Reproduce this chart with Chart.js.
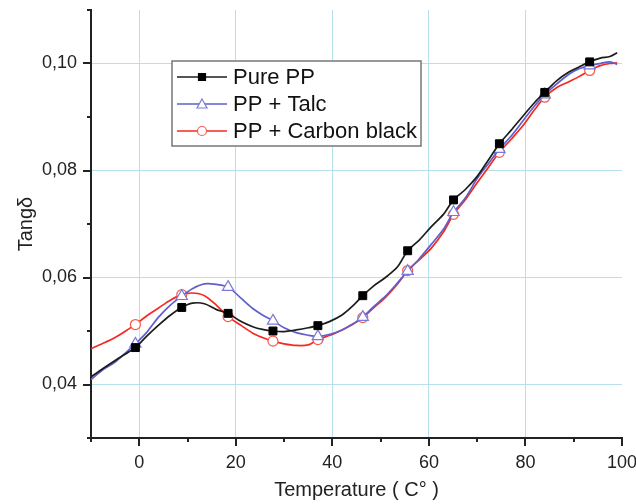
<!DOCTYPE html>
<html>
<head>
<meta charset="utf-8">
<script src="https://cdn.jsdelivr.net/npm/chart.js@4.4.0/dist/chart.umd.min.js"></script>
<style>
html, body { margin: 0; padding: 0; background: #fff; }
</style>
</head>
<body>
<canvas id="grafica" width="636" height="504"></canvas>
<script>
// temperatures (C)
var temps = [-10, -7.5, -5, -2.5, -0.8, 1.5, 4, 6.5, 8.8, 11, 13.5, 16, 18.4, 21, 23.5, 25.5,
  27.7, 30, 32.5, 35, 37, 39.5, 42, 44, 46.3, 48.5, 51, 53.5, 55.6, 58, 60.5, 63, 65.1,
  67.5, 70, 72.5, 74.6, 77, 79.5, 82, 84, 86.5, 89, 91, 93.3, 95.5, 97.5, 99];
// temperatures where the symbols sit
var markerTemps = [-0.8, 8.8, 18.4, 27.7, 37, 46.3, 55.6, 65.1, 74.6, 84, 93.3];

var purePP = [0.0414, 0.0430, 0.0445, 0.0459, 0.0469, 0.0490, 0.0511, 0.0530, 0.0544, 0.0552,
  0.0551, 0.0540, 0.0533, 0.0518, 0.0508, 0.0503, 0.0500, 0.0499, 0.0502, 0.0506, 0.0510,
  0.0518, 0.0530, 0.0545, 0.0566, 0.0584, 0.0600, 0.0620, 0.0650, 0.0670, 0.0695, 0.0718,
  0.0745, 0.0764, 0.0789, 0.0822, 0.0850, 0.0875, 0.0902, 0.0928, 0.0946, 0.0968, 0.0984,
  0.0993, 0.1003, 0.1010, 0.1013, 0.1020];
var ppTalc = [0.0409, 0.0428, 0.0442, 0.0462, 0.0476, 0.0497, 0.0526, 0.0549, 0.0565, 0.0579,
  0.0588, 0.0587, 0.0582, 0.0562, 0.0542, 0.0530, 0.0519, 0.0506, 0.0497, 0.0492, 0.0490,
  0.0494, 0.0502, 0.0512, 0.0526, 0.0545, 0.0565, 0.0590, 0.0612, 0.0635, 0.0662, 0.0690,
  0.0722, 0.0748, 0.0785, 0.0815, 0.0840, 0.0864, 0.0893, 0.0922, 0.0942, 0.0962, 0.0980,
  0.0990, 0.0996, 0.1000, 0.1003, 0.0998];
var ppCarbon = [0.0467, 0.0477, 0.0488, 0.0502, 0.0512, 0.0528, 0.0543, 0.0558, 0.0568, 0.0571,
  0.0566, 0.0548, 0.0527, 0.0511, 0.0496, 0.0488, 0.0481, 0.0476, 0.0473, 0.0474, 0.0484,
  0.0492, 0.0502, 0.0511, 0.0525, 0.0543, 0.0563, 0.0588, 0.0613, 0.0633, 0.0655, 0.0685,
  0.0718, 0.0745, 0.0777, 0.0808, 0.0834, 0.0858, 0.0884, 0.0915, 0.0937, 0.0955, 0.0966,
  0.0975, 0.0987, 0.0996, 0.1000, 0.1001];

var seriesNames = ["Pure PP", "PP + Talc", "PP + Carbon black"];
var xTitle = "Temperature ( C° )";
var yTitle = "Tangδ";

var FONT = "'Liberation Sans', Arial, sans-serif";

function pts(ys) {
  return ys.map(function (y, i) { return { x: temps[i], y: y }; });
}
function markerRadius(r) {
  return function (c) { return markerTemps.indexOf(temps[c.dataIndex]) >= 0 ? r : 0; };
}

// short/long tick marks on both axes
var tickMarks = {
  id: 'tickMarks',
  afterDraw: function (chart) {
    var ctx = chart.ctx, a = chart.chartArea;
    var sx = chart.scales.x, sy = chart.scales.y;
    ctx.save();
    ctx.strokeStyle = '#222';
    ctx.lineWidth = 2;
    sx.ticks.forEach(function (t) {
      var px = Math.round(sx.getPixelForValue(t.value));
      var len = Math.round(t.value) % 20 === 0 ? 8 : 4;
      ctx.beginPath(); ctx.moveTo(px, a.bottom); ctx.lineTo(px, a.bottom + len); ctx.stroke();
    });
    sy.ticks.forEach(function (t) {
      var py = Math.round(sy.getPixelForValue(t.value));
      var len = Math.round(t.value * 100) % 2 === 0 ? 8 : 4;
      ctx.beginPath(); ctx.moveTo(a.left, py); ctx.lineTo(a.left - len, py); ctx.stroke();
    });
    ctx.restore();
  }
};

// boxed legend, line + symbol like the original
var boxLegend = {
  id: 'boxLegend',
  afterDraw: function (chart) {
    var ctx = chart.ctx;
    var bx = 172, by = 61, bw = 249, bh = 85;
    ctx.save();
    ctx.fillStyle = '#fff';
    ctx.fillRect(bx, by, bw, bh);
    ctx.strokeStyle = '#777';
    ctx.lineWidth = 1.5;
    ctx.strokeRect(bx, by, bw, bh);
    chart.data.datasets.forEach(function (ds, i) {
      var y = 77 + i * 27;
      ctx.strokeStyle = ds.borderColor;
      ctx.lineWidth = 1.5;
      ctx.beginPath(); ctx.moveTo(177, y); ctx.lineTo(227, y); ctx.stroke();
      ctx.fillStyle = ds.pointBackgroundColor;
      ctx.strokeStyle = ds.pointBorderColor;
      ctx.lineWidth = 1.2;
      ctx.beginPath();
      if (ds.pointStyle === 'rect') {
        ctx.rect(198.5, y - 3.5, 7, 7);
      } else if (ds.pointStyle === 'triangle') {
        ctx.moveTo(202, y - 5); ctx.lineTo(207, y + 4); ctx.lineTo(197, y + 4); ctx.closePath();
      } else {
        ctx.arc(202, y, 4.5, 0, Math.PI * 2);
      }
      ctx.fill(); ctx.stroke();
      ctx.fillStyle = '#111';
      ctx.font = '22px ' + FONT;
      ctx.textBaseline = 'middle';
      ctx.fillText(ds.label, 233, y + 1);
    });
    ctx.restore();
  }
};

var graph = document.getElementById("grafica");
var chart = new Chart(graph, {
  type: 'line',
  data: {
    datasets: [{
      label: seriesNames[0],
      data: pts(purePP),
      borderColor: '#1c1c1c',
      borderWidth: 1.7,
      pointStyle: 'rect',
      pointRadius: markerRadius(5.6),
      pointBackgroundColor: '#000',
      pointBorderColor: '#000',
      pointBorderWidth: 1
    }, {
      label: seriesNames[1],
      data: pts(ppTalc),
      borderColor: '#5f5fcc',
      borderWidth: 1.7,
      pointStyle: 'triangle',
      pointRadius: markerRadius(6.5),
      pointBackgroundColor: '#fff',
      pointBorderColor: '#7a7ad8',
      pointBorderWidth: 1.2
    }, {
      label: seriesNames[2],
      data: pts(ppCarbon),
      borderColor: '#f52a1e',
      borderWidth: 1.7,
      pointStyle: 'circle',
      pointRadius: markerRadius(5),
      pointBackgroundColor: '#fff',
      pointBorderColor: '#f25a4e',
      pointBorderWidth: 1.2
    }]
  },
  options: {
    responsive: false,
    animation: false,
    events: [],
    tension: 0.3,
    layout: { padding: { top: 10, right: 14, left: 0, bottom: 0 } },
    plugins: {
      legend: { display: false },
      tooltip: { enabled: false }
    },
    scales: {
      x: {
        type: 'linear',
        min: -10,
        max: 100,
        afterFit: function (s) { s.height = 66; s.paddingLeft = 0; s.paddingRight = 0; },
        ticks: {
          stepSize: 10,
          autoSkip: false,
          maxRotation: 0,
          padding: 14,
          color: '#222',
          font: { family: FONT, size: 18 },
          callback: function (v) { return Math.round(v) % 20 === 0 ? String(Math.round(v)) : ''; }
        },
        grid: {
          drawTicks: false,
          lineWidth: 1,
          color: function (c) {
            var v = Math.round(c.tick.value);
            return (v % 20 === 0 && v < 100) ? '#b5e1ec' : 'rgba(0,0,0,0)';
          }
        },
        border: { display: true, color: '#222', width: 2 },
        title: {
          display: true,
          text: xTitle,
          color: '#222',
          font: { family: FONT, size: 20 },
          padding: { top: 0, bottom: 2 }
        }
      },
      y: {
        min: 0.03,
        max: 0.11,
        afterFit: function (s) { s.width = 91; s.paddingTop = 0; s.paddingBottom = 0; },
        ticks: {
          stepSize: 0.01,
          autoSkip: false,
          padding: 14,
          color: '#222',
          font: { family: FONT, size: 18 },
          callback: function (v) {
            var k = Math.round(v * 100);
            return k % 2 === 0 ? (k / 100).toFixed(2).replace('.', ',') : '';
          }
        },
        grid: {
          drawTicks: false,
          lineWidth: 1,
          color: function (c) {
            var k = Math.round(c.tick.value * 100);
            return (k % 2 === 0 && k > 3 && k < 11) ? '#b5e1ec' : 'rgba(0,0,0,0)';
          }
        },
        border: { display: true, color: '#222', width: 2 },
        title: {
          display: true,
          text: yTitle,
          color: '#222',
          font: { family: FONT, size: 20 },
          padding: { top: 14, bottom: 0 }
        }
      }
    }
  },
  plugins: [tickMarks, boxLegend]
});
</script>
</body>
</html>
